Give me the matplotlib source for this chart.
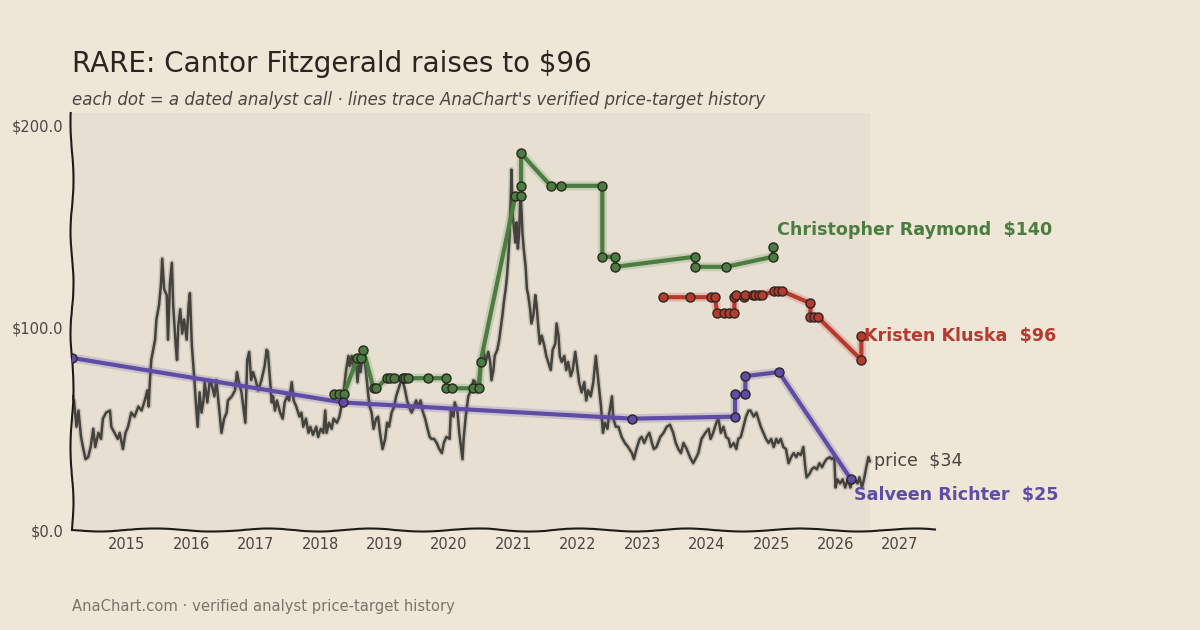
import matplotlib.pyplot as plt
import matplotlib.patheffects as pe

# 股价 (decimal year, $)
price_t = [2014.15, 2014.18, 2014.22, 2014.25, 2014.29, 2014.32, 2014.36, 2014.40, 2014.44, 2014.48,
           2014.51, 2014.56, 2014.60, 2014.63, 2014.68, 2014.74, 2014.76, 2014.81, 2014.86, 2014.89,
           2014.94, 2014.98, 2015.02, 2015.07, 2015.12, 2015.18, 2015.23, 2015.28, 2015.32, 2015.34,
           2015.36, 2015.38, 2015.41, 2015.44, 2015.46, 2015.50, 2015.53, 2015.55, 2015.58, 2015.62,
           2015.64, 2015.67, 2015.70, 2015.72, 2015.76, 2015.78, 2015.80, 2015.83, 2015.86, 2015.89,
           2015.93, 2015.96, 2015.98, 2016.01, 2016.05, 2016.07, 2016.10, 2016.13, 2016.16, 2016.19,
           2016.21, 2016.25, 2016.29, 2016.31, 2016.36, 2016.39, 2016.43, 2016.47, 2016.51, 2016.55,
           2016.57, 2016.63, 2016.68, 2016.71, 2016.74, 2016.78, 2016.82, 2016.84, 2016.87, 2016.90,
           2016.93, 2016.96, 2017.00, 2017.04, 2017.09, 2017.14, 2017.17, 2017.19, 2017.23, 2017.25,
           2017.27, 2017.30, 2017.33, 2017.38, 2017.42, 2017.45, 2017.49, 2017.52, 2017.56, 2017.59,
           2017.63, 2017.68, 2017.71, 2017.74, 2017.78, 2017.82, 2017.85, 2017.89, 2017.94, 2017.97,
           2018.01, 2018.05, 2018.08, 2018.10, 2018.14, 2018.18, 2018.21, 2018.26, 2018.30, 2018.33,
           2018.37, 2018.40, 2018.44, 2018.46, 2018.49, 2018.52, 2018.56, 2018.58, 2018.61, 2018.63,
           2018.66, 2018.69, 2018.71, 2018.75, 2018.77, 2018.80, 2018.83, 2018.87, 2018.90, 2018.93,
           2018.97, 2019.01, 2019.04, 2019.07, 2019.11, 2019.15, 2019.18, 2019.21, 2019.25, 2019.28,
           2019.32, 2019.35, 2019.38, 2019.42, 2019.46, 2019.49, 2019.52, 2019.56, 2019.59, 2019.63,
           2019.66, 2019.70, 2019.73, 2019.77, 2019.81, 2019.85, 2019.89, 2019.92, 2019.96, 2020.01,
           2020.03, 2020.07, 2020.09, 2020.13, 2020.16, 2020.19, 2020.21, 2020.23, 2020.26, 2020.30,
           2020.34, 2020.38, 2020.41, 2020.44, 2020.47, 2020.51, 2020.54, 2020.57, 2020.61, 2020.64,
           2020.66, 2020.69, 2020.71, 2020.75, 2020.78, 2020.80, 2020.83, 2020.85, 2020.88, 2020.90,
           2020.92, 2020.94, 2020.96, 2020.97, 2020.99, 2021.01, 2021.03, 2021.05, 2021.07, 2021.09,
           2021.11, 2021.13, 2021.14, 2021.16, 2021.19, 2021.21, 2021.23, 2021.26, 2021.28, 2021.31,
           2021.34, 2021.36, 2021.39, 2021.41, 2021.44, 2021.48, 2021.51, 2021.54, 2021.58, 2021.61,
           2021.65, 2021.67, 2021.70, 2021.72, 2021.75, 2021.79, 2021.82, 2021.85, 2021.89, 2021.92,
           2021.96, 2021.98, 2022.02, 2022.06, 2022.10, 2022.13, 2022.16, 2022.20, 2022.24, 2022.28,
           2022.32, 2022.36, 2022.39, 2022.42, 2022.46, 2022.49, 2022.53, 2022.55, 2022.59, 2022.63,
           2022.68, 2022.73, 2022.78, 2022.84, 2022.87, 2022.91, 2022.96, 2022.99, 2023.03, 2023.07,
           2023.11, 2023.15, 2023.18, 2023.22, 2023.28, 2023.33, 2023.38, 2023.43, 2023.48, 2023.52,
           2023.56, 2023.60, 2023.64, 2023.69, 2023.74, 2023.79, 2023.84, 2023.87, 2023.92, 2023.98,
           2024.03, 2024.06, 2024.10, 2024.15, 2024.18, 2024.22, 2024.26, 2024.30, 2024.34, 2024.37,
           2024.42, 2024.46, 2024.49, 2024.53, 2024.57, 2024.61, 2024.65, 2024.68, 2024.73, 2024.77,
           2024.80, 2024.84, 2024.88, 2024.92, 2024.96, 2025.00, 2025.04, 2025.08, 2025.11, 2025.15,
           2025.19, 2025.23, 2025.27, 2025.31, 2025.35, 2025.39, 2025.42, 2025.46, 2025.50, 2025.53,
           2025.55, 2025.60, 2025.63, 2025.67, 2025.71, 2025.75, 2025.79, 2025.82, 2025.86, 2025.91,
           2025.94, 2025.98, 2026.00, 2026.03, 2026.07, 2026.11, 2026.15, 2026.19, 2026.23, 2026.27,
           2026.30, 2026.34, 2026.37, 2026.41, 2026.44, 2026.47, 2026.51, 2026.53]
price_v = [66, 64, 51, 59, 46, 41, 35, 36, 41, 50,
           41, 48, 45, 55, 58, 59, 51, 48, 45, 48,
           40, 48, 51, 58, 56, 61, 59, 64, 69, 61,
           74, 84, 89, 94, 104, 111, 121, 134, 119, 116,
           94, 122, 132, 111, 91, 84, 101, 109, 97, 104,
           94, 111, 117, 91, 74, 64, 51, 68, 58, 64,
           73, 63, 74, 73, 66, 74, 61, 48, 55, 58,
           64, 66, 69, 78, 73, 68, 58, 53, 84, 88,
           74, 78, 74, 69, 74, 81, 89, 88, 71, 63,
           66, 59, 64, 58, 55, 63, 66, 64, 73, 64,
           61, 56, 58, 51, 55, 48, 51, 47, 51, 46,
           50, 48, 59, 48, 53, 50, 55, 53, 56, 61,
           69, 78, 86, 81, 86, 79, 83, 73, 83, 78,
           88, 83, 79, 66, 61, 58, 50, 55, 56, 48,
           40, 45, 53, 51, 58, 61, 66, 69, 73, 74,
           69, 64, 61, 58, 61, 64, 61, 64, 59, 55,
           51, 46, 45, 45, 43, 40, 38, 43, 46, 45,
           59, 56, 63, 59, 48, 40, 35, 46, 56, 66,
           69, 74, 73, 68, 76, 83, 88, 83, 88, 83,
           74, 79, 86, 89, 94, 99, 106, 112, 119, 125,
           134, 145, 165, 178, 155, 149, 142, 152, 139, 147,
           168, 155, 147, 139, 130, 119, 116, 109, 102, 106,
           116, 111, 99, 92, 96, 91, 86, 83, 79, 89,
           92, 102, 96, 86, 83, 86, 79, 83, 76, 79,
           88, 83, 73, 68, 73, 64, 69, 66, 73, 86,
           73, 61, 48, 53, 50, 58, 66, 55, 51, 51,
           46, 43, 41, 38, 35, 40, 45, 46, 43, 46,
           48, 43, 40, 41, 46, 48, 51, 52, 48, 43,
           40, 38, 43, 40, 36, 33, 36, 38, 45, 48,
           50, 45, 48, 53, 55, 48, 51, 46, 45, 41,
           43, 40, 45, 46, 51, 56, 59, 59, 56, 58,
           55, 51, 48, 45, 43, 45, 41, 45, 43, 45,
           41, 40, 33, 36, 38, 36, 38, 37, 41, 31,
           26, 28, 30, 31, 30, 33, 31, 33, 35, 36,
           35, 36, 21, 25, 23, 25, 21, 25, 21, 25,
           25, 23, 26, 21, 25, 30, 36, 34]

# 分析师目标价
raymond_t = [2018.21, 2018.29, 2018.37, 2018.58, 2018.64, 2018.67, 2018.83, 2018.87,
             2019.04, 2019.09, 2019.15, 2019.28, 2019.32, 2019.36, 2019.68, 2019.95,
             2019.96, 2020.04, 2020.38, 2020.47, 2020.49, 2021.03, 2021.12, 2021.12,
             2021.12, 2021.58, 2021.74, 2022.38, 2022.38, 2022.58, 2022.58, 2023.82,
             2023.82, 2024.30, 2025.03, 2025.03]
raymond_v = [67, 67, 67, 85, 85, 89, 70, 70,
             75, 75, 75, 75, 75, 75, 75, 75,
             70, 70, 70, 70, 83, 165, 165, 170,
             186, 170, 170, 170, 135, 135, 130, 135,
             130, 130, 135, 140]

kluska_t = [2023.32, 2023.74, 2024.07, 2024.13, 2024.16, 2024.27, 2024.35, 2024.43, 2024.43,
            2024.46, 2024.58, 2024.60, 2024.72, 2024.75, 2024.81, 2024.86, 2025.05, 2025.11,
            2025.17, 2025.61, 2025.61, 2025.67, 2025.73, 2026.40, 2026.40]
kluska_v = [115, 115, 115, 115, 107, 107, 107, 107, 115,
            116, 115, 116, 116, 116, 116, 116, 118, 118,
            118, 112, 105, 105, 105, 84, 96]

richter_t = [2014.15, 2018.35, 2022.84, 2024.44, 2024.44, 2024.60, 2024.60, 2025.12, 2026.24]
richter_v = [85, 63, 55, 56, 67, 67, 76, 78, 25]

years = list(range(2015, 2028))
yticks = [0, 100, 200]

bg = '#eee6d6'
ink = '#4a4540'

fig = plt.figure(figsize=(12, 6.3), dpi=100, facecolor=bg)
ax = fig.add_axes([0.06, 0.1587, 0.719, 0.662])
ax.set_facecolor(bg)
ax.axvspan(price_t[0], price_t[-1], color='#e7e0d2', lw=0, zorder=0)

ax.plot(price_t, price_v, color='#44423d', lw=1.8, zorder=2,
        path_effects=[pe.Stroke(linewidth=4, foreground='#44423d', alpha=0.18), pe.Normal()])

series = [
    (raymond_t, raymond_v, '#4b7c40', 'Christopher Raymond  $140', (3, 12)),
    (kluska_t, kluska_v, '#b83a2e', 'Kristen Kluska  $96', (2, 0)),
    (richter_t, richter_v, '#5e4ca5', 'Salveen Richter  $25', (2, -11)),
]
for t, v, c, name, off in series:
    ax.plot(t, v, color=c, lw=3, zorder=3, solid_capstyle='round',
            path_effects=[pe.Stroke(linewidth=6.5, foreground=c, alpha=0.2), pe.Normal()])
    ax.plot(t, v, 'o', color=c, ms=6.5, mec='#2a2622', mew=1, zorder=4)
    ax.annotate(name, (t[-1], v[-1]), xytext=off, textcoords='offset points',
                color=c, fontsize=12.6, fontweight='bold', va='center', ha='left', zorder=5)

ax.annotate('price  $%d' % price_v[-1], (price_t[-1], price_v[-1]), xytext=(3, 0),
            textcoords='offset points', color=ink, fontsize=12.6, va='center', ha='left')

ax.set_xlim(2014.15, 2027.54)
ax.set_ylim(0, 206)
ax.set_xticks(years)
ax.set_xticklabels([str(y) for y in years])
ax.set_yticks(yticks)
ax.set_yticklabels(['$%.1f' % y for y in yticks])
ax.tick_params(length=0, labelsize=10.5, labelcolor=ink)
ax.tick_params(axis='x', pad=5)
ax.tick_params(axis='y', pad=6)

for s in ['top', 'right']:
    ax.spines[s].set_visible(False)
for s in ['left', 'bottom']:
    ax.spines[s].set_color('#1f1b18')
    ax.spines[s].set_linewidth(1.5)
    ax.spines[s].set_sketch_params(1.5, 120, 2)

fig.text(0.06, 0.899, 'RARE: Cantor Fitzgerald raises to $96', fontsize=20, color='#2b2520', va='center')
fig.text(0.06, 0.841, "each dot = a dated analyst call \u00b7 lines trace AnaChart's verified price-target history",
         fontsize=12, style='italic', color=ink, va='center')
fig.text(0.06, 0.038, 'AnaChart.com \u00b7 verified analyst price-target history',
         fontsize=10.6, color='#7a746a', va='center')

fig.savefig('out.png', dpi=100, facecolor=bg)
